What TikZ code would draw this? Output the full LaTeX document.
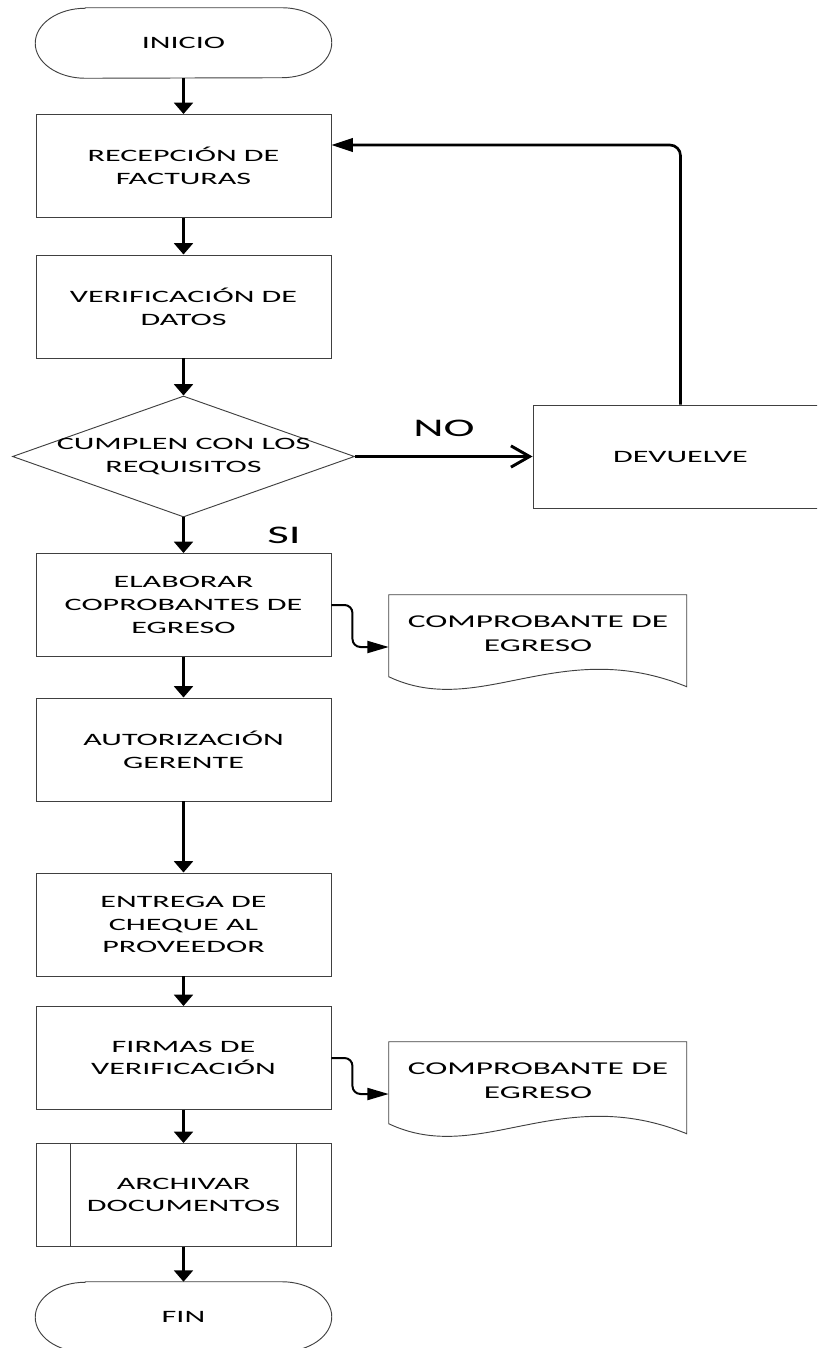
\documentclass[tikz,border=0pt]{standalone}
\usepackage{fontspec}
\setmainfont{Carlito}[FakeStretch=1.85]
\usetikzlibrary{arrows.meta,shapes.geometric}

\begin{document}
\begin{tikzpicture}[x=0.75pt,y=0.75pt,
  txt/.style={font=\fontsize{13pt}{17pt}\selectfont,align=center},
  boxline/.style={draw=black!75,line width=0.7pt},
  procbox/.style={txt,boxline,minimum width=221.25pt,minimum height=77.25pt,inner sep=0pt},
  termbox/.style={txt,minimum width=222pt,minimum height=52.5pt,inner sep=0pt},
  docnode/.style={font=\fontsize{13.5pt}{18pt}\selectfont,align=center,minimum width=223.5pt,minimum height=58.5pt,inner sep=0pt},
  decision/.style={diamond,boxline,minimum width=256.5pt,minimum height=90.75pt,inner sep=0pt},
  bigtxt/.style={font=\fontsize{19pt}{22pt}\selectfont},
  flow/.style={-{Triangle[length=8.5pt,width=14pt]},line width=2.2pt},
  noarrow/.style={-{Straight Barb[length=14pt,width=16pt]},line width=2.2pt},
  backlink/.style={-{Triangle[length=16pt,width=10pt]},line width=2pt,rounded corners=8pt},
  doclink/.style={-{Triangle[length=16pt,width=9pt]},line width=1.5pt,rounded corners=6pt}]
  \useasboundingbox (0,0) rectangle (817,-1348);
  \clip (0,0) rectangle (817,-1348);
  % main column
  \node[termbox] (inicio) at (183.5,-43) {INICIO};
  \node[procbox] (recep) at (183.5,-166) {RECEPCIÓN DE\\FACTURAS};
  \node[procbox] (verif) at (183.5,-306.5) {VERIFICACIÓN DE\\DATOS};
  \node[decision] (cumple) at (183.5,-456.5) {};
  \node[txt] (cumpletxt) at (183.5,-456.5) {CUMPLEN CON LOS\\REQUISITOS};
  \node[procbox] (dev) at (680.5,-456.5) {DEVUELVE};
  \node[procbox] (elab) at (183.5,-605) {ELABORAR\\COPROBANTES DE\\EGRESO};
  \node[procbox] (autor) at (183.5,-749.5) {AUTORIZACIÓN\\GERENTE};
  \node[procbox] (entrega) at (183.5,-924.5) {ENTREGA DE\\CHEQUE AL\\PROVEEDOR};
  \node[procbox] (firmas) at (183.5,-1058) {FIRMAS DE\\VERIFICACIÓN};
  \node[procbox] (arch) at (183.5,-1195) {ARCHIVAR\\DOCUMENTOS};
  \node[termbox] (fin) at (183.5,-1317) {FIN};
  % documents
  \node[docnode] (doc1) at (538,-634) {COMPROBANTE DE\\EGRESO};
  \node[docnode] (doc2) at (538,-1081) {COMPROBANTE DE\\EGRESO};
  % terminal outlines
  \foreach \t in {inicio,fin}
    \draw[boxline] ([xshift=37.5pt]\t.north west) -- ([xshift=-37.5pt]\t.north east)
      arc[start angle=90,end angle=-90,x radius=37.5pt,y radius=26.25pt]
      -- ([xshift=37.5pt]\t.south west)
      arc[start angle=270,end angle=90,x radius=37.5pt,y radius=26.25pt] -- cycle;
  % document outlines with wavy bottom
  \foreach \d in {doc1,doc2}
    \draw[boxline,shift={(\d.north west)}] (0,0) -- (0,-82)
      .. controls (91,-125) and (171,-40) .. (298,-92) -- (298,0) -- cycle;
  % side bars of the archive box
  \draw[boxline] ([xshift=26.25pt]arch.north west) -- ([xshift=26.25pt]arch.south west);
  \draw[boxline] ([xshift=-26.25pt]arch.north east) -- ([xshift=-26.25pt]arch.south east);
  % arrows
  \draw[flow] (inicio) -- (recep);
  \draw[flow] (recep) -- (verif);
  \draw[flow] (verif) -- (cumple);
  \draw[flow] (cumple) -- (elab);
  \draw[flow] (elab) -- (autor);
  \draw[flow] (autor) -- (entrega);
  \draw[flow] (entrega) -- (firmas);
  \draw[flow] (firmas) -- (arch);
  \draw[flow] (arch) -- (fin);
  \draw[noarrow] (cumple) -- (dev);
  \draw[backlink] (dev.north) |- ([yshift=15.75pt]recep.east);
  \draw[doclink] (elab.east) -- ++(21,0) |- ([yshift=-9.75pt]doc1.west);
  \draw[doclink] (firmas.east) -- ++(21,0) |- ([yshift=-9.75pt]doc2.west);
  % answers
  \node[bigtxt] (lblno) at (444,-428) {NO};
  \node[bigtxt] (lblsi) at (284,-535) {SI};
\end{tikzpicture}
\end{document}
